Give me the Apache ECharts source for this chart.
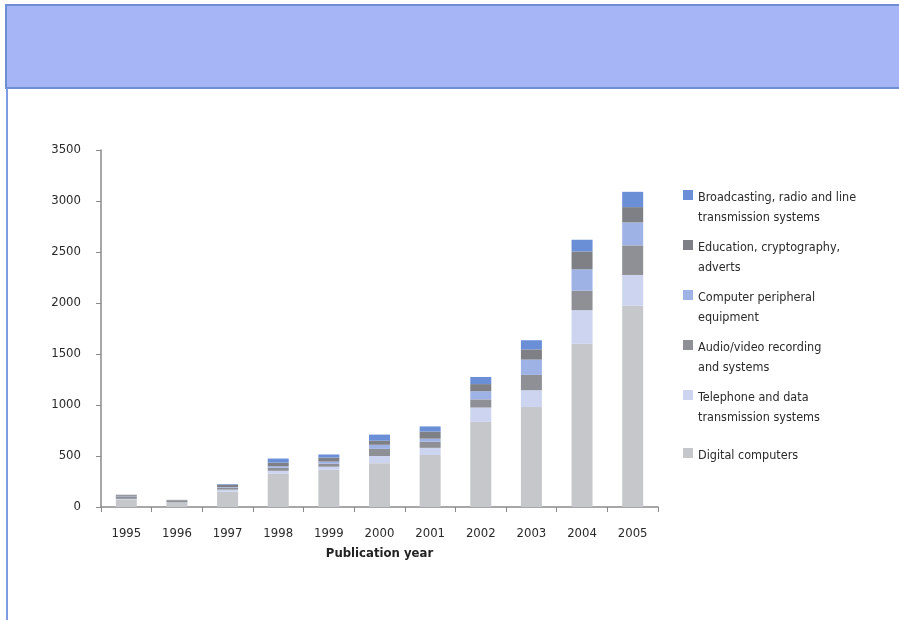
<!DOCTYPE html>
<html>
<head>
<meta charset="utf-8">
<title>Publications by year</title>
<script src="https://cdn.jsdelivr.net/npm/echarts@6/dist/echarts.min.js"></script>
<style>
  html, body { margin: 0; padding: 0; background: #fff; }
  #main { width: 899px; height: 620px; }
</style>
</head>
<body>
<div id="main"></div>
<script>
let years = ['1995', '1996', '1997', '1998', '1999', '2000', '2001', '2002', '2003', '2004', '2005'];
let yTicks = [0, 500, 1000, 1500, 2000, 2500, 3000, 3500];

// stacked from the bottom up
let digital     = [75, 40, 150, 325, 365, 430, 510, 835, 980, 1600, 1975];
let telephone   = [5, 5, 20, 30, 30, 70, 70, 140, 165, 330, 300];
let audioVideo  = [25, 20, 20, 30, 30, 70, 60, 80, 150, 190, 290];
let peripheral  = [5, 0, 5, 15, 20, 40, 30, 80, 150, 210, 225];
let education   = [10, 5, 25, 35, 40, 40, 70, 70, 100, 175, 150];
let broadcast   = [0, 0, 5, 40, 30, 60, 50, 70, 90, 115, 150];

let names = {
	broadcast: 'Broadcasting, radio and line\ntransmission systems',
	education: 'Education, cryptography,\nadverts',
	peripheral: 'Computer peripheral\nequipment',
	audioVideo: 'Audio/video recording\nand systems',
	telephone: 'Telephone and data\ntransmission systems',
	digital: 'Digital computers'
};

let font = '"DejaVu Sans Condensed", "Liberation Sans Narrow", "Liberation Sans", sans-serif';

// legend squares sit on the first text line, not in the middle of the block
let iconTop = 'path://M0,0H10V10H0Z M0,36';
let iconMid = 'path://M0,0 M0,10H10V20H0Z M0,36';

let chartDom = document.getElementById('main');
let myChart = echarts.init(chartDom);

function bar(name, data, color) {
	return {
		name: name,
		type: 'bar',
		stack: 'total',
		barWidth: 21,
		data: data,
		itemStyle: { color: color }
	};
}

let option = {
	backgroundColor: '#ffffff',
	animation: false,
	graphic: [
		{
			type: 'rect',
			shape: { x: 6, y: 5, width: 900, height: 83 },
			style: { fill: '#a5b5f6', stroke: '#6f8dd2', lineWidth: 2 }
		},
		{
			type: 'line',
			shape: { x1: 7, y1: 88, x2: 7, y2: 620 },
			style: { stroke: '#7d9be0', lineWidth: 2 }
		}
	],
	grid: {
		left: 101,
		right: 241,
		top: 150,
		bottom: 113
	},
	legend: {
		orient: 'vertical',
		left: 683,
		top: 188,
		padding: 0,
		itemWidth: 10,
		itemHeight: 36,
		itemGap: 10,
		icon: iconTop,
		textStyle: {
			fontFamily: font,
			fontSize: 12.5,
			lineHeight: 20,
			color: '#2a2a2a'
		},
		data: [
			{ name: names.broadcast },
			{ name: names.education },
			{ name: names.peripheral },
			{ name: names.audioVideo },
			{ name: names.telephone },
			{ name: names.digital, icon: iconMid }
		]
	},
	xAxis: {
		type: 'category',
		data: years,
		name: 'Publication year',
		nameLocation: 'middle',
		nameGap: 40,
		nameTextStyle: {
			fontFamily: font,
			fontWeight: 'bold',
			fontSize: 13,
			color: '#222'
		},
		axisLine: { lineStyle: { color: '#8a8a8a', width: 1.5 } },
		axisTick: { show: true, length: 5, lineStyle: { color: '#8a8a8a' } },
		axisLabel: {
			margin: 20,
			fontFamily: font,
			fontSize: 13,
			color: '#2a2a2a'
		}
	},
	yAxis: {
		type: 'value',
		min: yTicks[0],
		max: yTicks[yTicks.length - 1],
		interval: 500,
		splitLine: { show: false },
		axisLine: { show: true, lineStyle: { color: '#8a8a8a', width: 1.5 } },
		axisTick: { show: true, length: 5, lineStyle: { color: '#8a8a8a' } },
		axisLabel: {
			margin: 20,
			fontFamily: font,
			fontSize: 13,
			color: '#2a2a2a',
			formatter: function (v) { return String(v); }
		}
	},
	series: [
		bar(names.digital, digital, '#c5c7ca'),
		bar(names.telephone, telephone, '#ccd4f0'),
		bar(names.audioVideo, audioVideo, '#8e9095'),
		bar(names.peripheral, peripheral, '#9fb2e6'),
		bar(names.education, education, '#7e8086'),
		bar(names.broadcast, broadcast, '#6b8fd6')
	]
};

option && myChart.setOption(option);
</script>
</body>
</html>
